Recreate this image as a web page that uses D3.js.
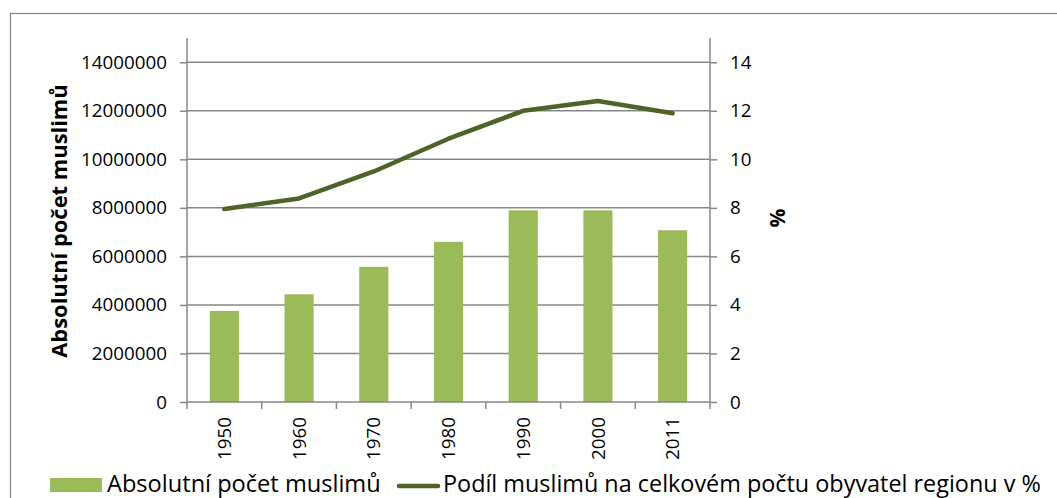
<!DOCTYPE html>
<html><head><meta charset="utf-8">
<script src="https://cdn.jsdelivr.net/npm/d3@7"></script>
<style>
body{margin:0;background:#fff;}
text{font-family:"Open Sans",sans-serif;fill:#000;}
</style></head>
<body><svg id="c" width="1057" height="498"></svg>
<script>
const years = ["1950","1960","1970","1980","1990","2000","2011"];
const absoluteCount = [3750000, 4440000, 5570000, 6600000, 7900000, 7900000, 7080000];
const sharePercent = [7.95, 8.39, 9.5, 10.85, 12.0, 12.4, 11.9];
const leftTicks = [0, 2000000, 4000000, 6000000, 8000000, 10000000, 12000000, 14000000];
const rightTicks = [0, 2, 4, 6, 8, 10, 12, 14];
const barLabel = "Absolutní počet muslimů";
const lineLabel = "Podíl muslimů na celkovém počtu obyvatel regionu v %";
const leftTitle = "Absolutní počet muslimů";
const rightTitle = "%";

const svg = d3.select("#c");
const grey = "#878787";
const barColor = "#9BBB59";
const lineColor = "#4F6228";
const fs = 18.8;

// chart border
svg.append("rect").attr("x",10.5).attr("y",13.5).attr("width",1060).attr("height",500)
  .attr("fill","none").attr("stroke","#8a8a8a").attr("stroke-width",1.3);

const L = 187, R = 710, T = 38, B = 402;
const x = d3.scaleBand().domain(years).range([L,R]).paddingInner(0.61).paddingOuter(0.305);
const xb = d3.scaleBand().domain(years).range([L,R]);
const yL = d3.scaleLinear().domain([0,15000000]).range([B,T]);
const yR = d3.scaleLinear().domain([0,15]).range([B,T]);

// gridlines
svg.append("g").selectAll("line").data(leftTicks.filter(d=>d>0)).join("line")
  .attr("x1",L).attr("x2",R).attr("y1",d=>yL(d)).attr("y2",d=>yL(d))
  .attr("stroke",grey).attr("stroke-width",1.5);

// bars
svg.append("g").selectAll("rect").data(years).join("rect")
  .attr("x",d=>x(d)).attr("width",x.bandwidth())
  .attr("y",(d,i)=>yL(absoluteCount[i])).attr("height",(d,i)=>B-yL(absoluteCount[i]))
  .attr("fill",barColor);

// left axis
const gl = svg.append("g").attr("transform",`translate(${L},0)`)
  .call(d3.axisLeft(yL).tickValues(leftTicks).tickFormat(d3.format("d")).tickSize(7).tickPadding(13));
gl.select(".domain").attr("d",`M-0,${T}V${B}`);
// right axis
const gr = svg.append("g").attr("transform",`translate(${R},0)`)
  .call(d3.axisRight(yR).tickValues(rightTicks).tickFormat(d3.format("d")).tickSize(7).tickPadding(13));
gr.select(".domain").attr("d",`M0,${T}V${B}`);
// bottom axis
const gb = svg.append("g").attr("transform",`translate(0,${B})`)
  .call(d3.axisBottom(xb).tickSize(0).tickFormat(d=>d));
gb.select(".domain").attr("d",`M${L},0H${R}`);
gb.selectAll(".tick text").attr("transform","rotate(-90)").attr("text-anchor","end")
  .attr("x",-15).attr("y",0).attr("dy","0.35em");
// bottom tick marks at band boundaries
svg.append("g").selectAll("line").data(years.concat(["end"])).join("line")
  .attr("x1",(d,i)=>i<years.length? xb(d): R).attr("x2",(d,i)=>i<years.length? xb(d): R)
  .attr("y1",B).attr("y2",B+7).attr("stroke",grey).attr("stroke-width",1.5);

[gl,gr,gb].forEach(g=>{
  g.selectAll(".domain").attr("stroke",grey).attr("stroke-width",1.5);
  g.selectAll(".tick line").attr("stroke",grey).attr("stroke-width",1.5);
  g.selectAll(".tick text").style("font-size",fs+"px").style("font-family","Open Sans").attr("fill","#000");
});

// line
const line = d3.line().x((d,i)=>xb(years[i])+xb.bandwidth()/2).y(d=>yR(d));
svg.append("path").datum(sharePercent).attr("d",line).attr("fill","none")
  .attr("stroke",lineColor).attr("stroke-width",4.5).attr("stroke-linecap","round").attr("stroke-linejoin","round");

// axis titles
svg.append("text").attr("transform","translate(67,221) rotate(-90)").attr("text-anchor","middle")
  .style("font-size","21.9px").style("font-weight","bold").text(leftTitle);
svg.append("text").attr("transform","translate(785,218) rotate(-90)").attr("text-anchor","middle")
  .style("font-size","21px").style("font-weight","bold").text(rightTitle);

// legend
svg.append("rect").attr("x",50).attr("y",478).attr("width",52).attr("height",14).attr("fill",barColor);
svg.append("text").attr("x",107).attr("y",492).style("font-size","23.6px").text(barLabel);
svg.append("line").attr("x1",399).attr("x2",438).attr("y1",486).attr("y2",486)
  .attr("stroke",lineColor).attr("stroke-width",4.5).attr("stroke-linecap","round");
svg.append("text").attr("x",443).attr("y",492).style("font-size","23.4px").text(lineLabel);
</script></body></html>
